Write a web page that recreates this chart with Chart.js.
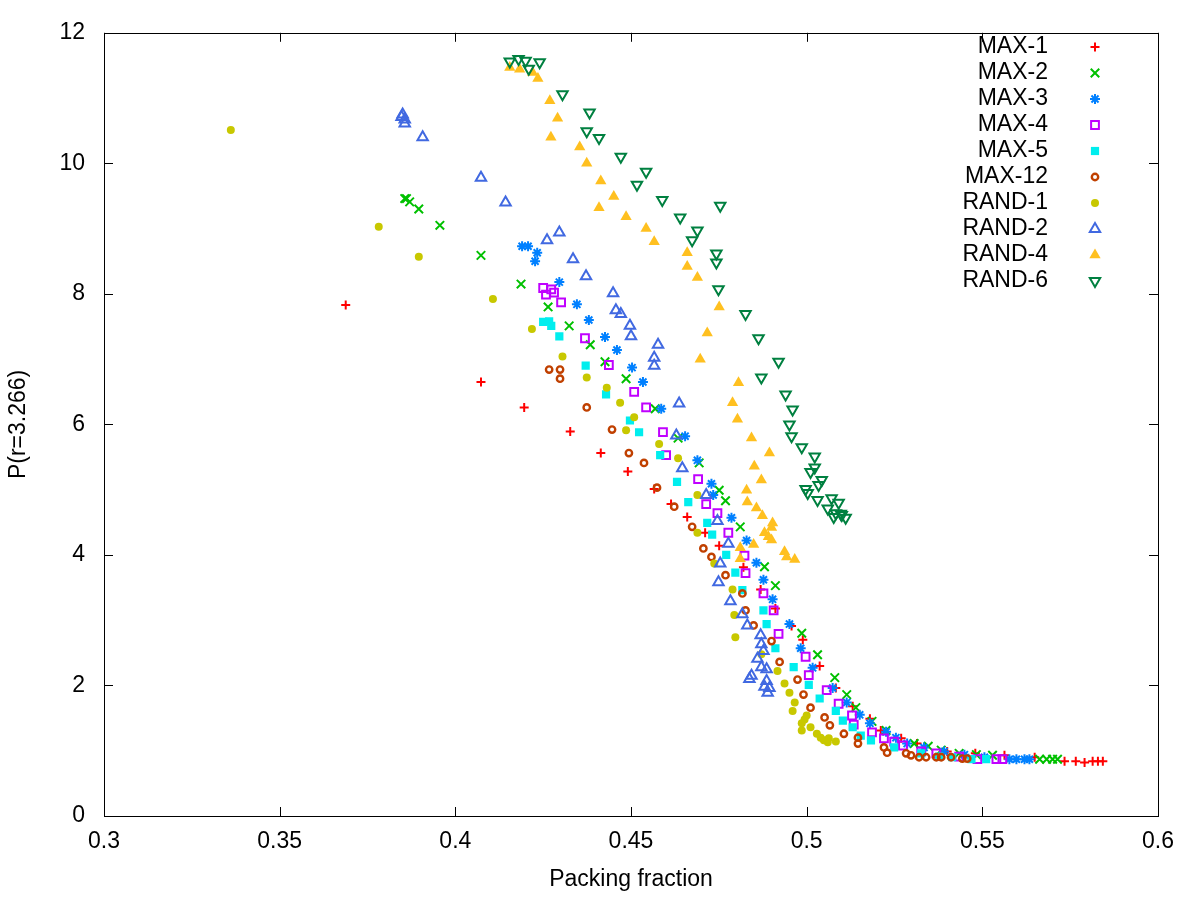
<!DOCTYPE html>
<html>
<head>
<meta charset="utf-8">
<script src="https://cdn.jsdelivr.net/npm/chart.js@4/dist/chart.umd.min.js"></script>
<style>
  html, body { margin: 0; padding: 0; background: #fff; }
  #wrap { width: 1200px; height: 900px; }
</style>
</head>
<body>
<div id="wrap"><canvas id="c" width="1200" height="900"></canvas></div>
<script>
// axis ticks
const xTicks = [0.3, 0.35, 0.4, 0.45, 0.5, 0.55, 0.6];
const yTicks = [0, 2, 4, 6, 8, 10, 12];

// series names, in plot order
const seriesNames = ['MAX-1', 'MAX-2', 'MAX-3', 'MAX-4', 'MAX-5', 'MAX-12', 'RAND-1', 'RAND-2', 'RAND-4', 'RAND-6'];

// [packing fraction, P(r=3.266)]
const max1 = [[0.3688,7.83],[0.4073,6.65],[0.4196,6.26],[0.4327,5.89],[0.4414,5.56],[0.4491,5.28],[0.4566,5.01],[0.4614,4.78],[0.466,4.58],[0.4711,4.34],[0.4751,4.14],[0.482,3.81],[0.4869,3.47],[0.4911,3.18],[0.4957,2.91],[0.4989,2.70],[0.5037,2.30],[0.5083,1.96],[0.5131,1.68],[0.518,1.49],[0.5211,1.31],[0.5269,1.19],[0.5314,1.11],[0.54,0.99],[0.548,0.96],[0.5563,0.93],[0.5649,0.90],[0.5734,0.84],[0.5766,0.84],[0.5791,0.82],[0.5814,0.84],[0.5829,0.84],[0.5843,0.84]];
const max2 = [[0.3856,9.46],[0.3861,9.46],[0.387,9.41],[0.3896,9.30],[0.3956,9.05],[0.4073,8.59],[0.4187,8.15],[0.4264,7.80],[0.4324,7.51],[0.4384,7.22],[0.4426,6.96],[0.4486,6.70],[0.4569,6.24],[0.4634,5.79],[0.4694,5.41],[0.4751,4.99],[0.4769,4.83],[0.4811,4.43],[0.488,3.82],[0.4911,3.53],[0.4986,2.80],[0.5031,2.47],[0.508,2.12],[0.5114,1.86],[0.514,1.66],[0.5186,1.45],[0.5226,1.31],[0.5306,1.11],[0.5346,1.07],[0.5383,1.01],[0.5434,0.96],[0.5483,0.94],[0.5529,0.93],[0.5663,0.87],[0.5683,0.87],[0.57,0.87],[0.5714,0.87]];
const max3 = [[0.419,8.73],[0.4207,8.73],[0.4233,8.63],[0.4227,8.50],[0.4296,8.18],[0.4346,7.84],[0.438,7.60],[0.4426,7.34],[0.446,7.14],[0.4503,6.87],[0.4534,6.65],[0.4586,6.24],[0.4654,5.82],[0.4689,5.45],[0.4729,5.09],[0.4734,4.92],[0.4786,4.57],[0.4829,4.22],[0.4857,3.88],[0.4877,3.62],[0.4903,3.32],[0.4951,2.94],[0.4983,2.57],[0.5017,2.27],[0.5074,1.96],[0.5114,1.74],[0.5151,1.55],[0.518,1.42],[0.5226,1.29],[0.5254,1.20],[0.5286,1.11],[0.5334,1.05],[0.5391,0.99],[0.5449,0.94],[0.5506,0.90],[0.5577,0.87],[0.5597,0.87],[0.562,0.87],[0.5634,0.87]];
const max4 = [[0.425,8.09],[0.4273,8.07],[0.4258,7.99],[0.4281,8.02],[0.4301,7.87],[0.4369,7.32],[0.4437,6.91],[0.4509,6.50],[0.4543,6.26],[0.4591,5.88],[0.46,5.53],[0.4691,5.16],[0.4714,4.78],[0.4746,4.64],[0.4777,4.34],[0.4823,3.99],[0.4826,3.72],[0.4877,3.41],[0.4906,3.15],[0.492,2.79],[0.4997,2.44],[0.5006,2.16],[0.5057,1.93],[0.5091,1.72],[0.5129,1.54],[0.5134,1.40],[0.5186,1.28],[0.522,1.19],[0.5249,1.14],[0.5274,1.08],[0.5326,0.99],[0.5369,0.96],[0.5434,0.91],[0.5486,0.87],[0.554,0.87],[0.5557,0.87]];
const max5 = [[0.425,7.57],[0.4267,7.58],[0.4273,7.51],[0.4296,7.35],[0.4371,6.90],[0.4429,6.46],[0.4497,6.06],[0.4523,5.88],[0.4583,5.53],[0.4631,5.12],[0.4663,4.81],[0.4717,4.49],[0.4731,4.31],[0.4771,4.00],[0.4797,3.73],[0.4817,3.46],[0.4877,3.15],[0.4886,2.94],[0.4911,2.57],[0.4963,2.28],[0.5006,2.01],[0.5037,1.80],[0.5083,1.61],[0.5103,1.46],[0.5131,1.36],[0.5154,1.23],[0.5183,1.16],[0.5249,1.05],[0.5326,0.96],[0.5377,0.91],[0.5414,0.90],[0.5469,0.87],[0.5511,0.87]];
const max12 = [[0.4267,6.84],[0.4298,6.84],[0.4298,6.70],[0.4374,6.26],[0.4446,5.92],[0.4494,5.56],[0.4537,5.41],[0.4574,5.03],[0.4623,4.74],[0.4674,4.43],[0.4706,4.10],[0.4729,3.97],[0.4769,3.69],[0.4817,3.41],[0.4826,3.15],[0.4849,2.92],[0.49,2.68],[0.4923,2.36],[0.4974,2.09],[0.4991,1.86],[0.5011,1.66],[0.5051,1.51],[0.5066,1.39],[0.5106,1.26],[0.5146,1.20],[0.5146,1.11],[0.522,1.05],[0.5229,0.97],[0.5283,0.96],[0.5297,0.93],[0.532,0.90],[0.534,0.90],[0.5369,0.90],[0.5383,0.90],[0.5411,0.90],[0.5443,0.88],[0.5457,0.88]];
const rand1 = [[0.3361,10.51],[0.3782,9.03],[0.3896,8.57],[0.4107,7.92],[0.4218,7.46],[0.4305,7.04],[0.4374,6.72],[0.4431,6.56],[0.4469,6.33],[0.4509,6.11],[0.4486,5.91],[0.458,5.70],[0.4634,5.48],[0.4689,4.92],[0.4689,4.34],[0.4737,3.87],[0.4789,3.47],[0.4794,3.08],[0.4797,2.74],[0.4871,2.48],[0.4917,2.22],[0.4937,2.03],[0.4951,1.89],[0.4966,1.74],[0.496,1.61],[0.5,1.54],[0.4994,1.48],[0.4986,1.42],[0.4986,1.31],[0.5011,1.36],[0.5029,1.26],[0.504,1.20],[0.5049,1.16],[0.5063,1.19],[0.5083,1.14],[0.506,1.13]];
const rand2 = [[0.385,10.75],[0.3847,10.71],[0.3856,10.67],[0.3856,10.61],[0.3907,10.40],[0.4073,9.78],[0.4143,9.40],[0.4296,8.94],[0.4261,8.82],[0.4335,8.53],[0.4372,8.27],[0.4449,8.01],[0.4457,7.75],[0.4471,7.69],[0.4497,7.51],[0.45,7.35],[0.4577,7.22],[0.4566,7.02],[0.4566,6.90],[0.4637,6.32],[0.4629,5.83],[0.4646,5.33],[0.4714,4.92],[0.4746,4.52],[0.4777,4.17],[0.4754,3.87],[0.4749,3.58],[0.4783,3.29],[0.4817,3.09],[0.4831,2.92],[0.4869,2.77],[0.4871,2.63],[0.4877,2.53],[0.486,2.41],[0.4871,2.28],[0.4886,2.25],[0.4843,2.15],[0.4837,2.10],[0.4886,2.07],[0.488,1.98],[0.4894,1.96],[0.4889,1.89]];
const rand4 = [[0.4155,11.47],[0.4183,11.44],[0.422,11.39],[0.4235,11.30],[0.4269,10.96],[0.4291,10.69],[0.4272,10.40],[0.4354,10.25],[0.4374,10.00],[0.4414,9.73],[0.4451,9.49],[0.4409,9.32],[0.4486,9.18],[0.4543,9.00],[0.4566,8.80],[0.466,8.63],[0.466,8.42],[0.4689,8.25],[0.4751,7.80],[0.4717,7.40],[0.4697,7.00],[0.4806,6.64],[0.4789,6.33],[0.4803,6.08],[0.4843,5.79],[0.4894,5.56],[0.4851,5.36],[0.4871,5.15],[0.4829,4.99],[0.4831,4.81],[0.4857,4.72],[0.4874,4.60],[0.4903,4.49],[0.49,4.42],[0.488,4.34],[0.4891,4.28],[0.49,4.23],[0.4811,4.11],[0.4849,4.16],[0.4811,3.94],[0.4937,4.05],[0.4943,3.97],[0.4966,3.93]];
const rand6 = [[0.4155,11.56],[0.418,11.60],[0.42,11.57],[0.4209,11.45],[0.424,11.55],[0.4305,11.06],[0.4382,10.78],[0.4374,10.49],[0.4409,10.39],[0.4471,10.10],[0.4543,9.87],[0.4517,9.67],[0.4589,9.44],[0.464,9.17],[0.4689,8.97],[0.4674,8.82],[0.4754,9.35],[0.4743,8.62],[0.4743,8.48],[0.4749,8.07],[0.4826,7.69],[0.4863,7.32],[0.492,6.96],[0.4871,6.72],[0.494,6.46],[0.496,6.23],[0.4951,6.00],[0.4957,5.82],[0.4986,5.65],[0.5023,5.51],[0.5023,5.34],[0.5011,5.27],[0.5043,5.15],[0.5034,5.07],[0.4997,5.01],[0.5003,4.95],[0.5031,4.84],[0.5071,4.87],[0.5091,4.80],[0.506,4.71],[0.5077,4.58],[0.5083,4.64],[0.5097,4.63],[0.5111,4.57],[0.51,4.61]];

const seriesData = [max1, max2, max3, max4, max5, max12, rand1, rand2, rand4, rand6];

// gnuplot-ish marker per series
const markers = [
  { color: '#ff0000', style: 'cross',    r: 4.5, bw: 2,   fill: false },
  { color: '#00c000', style: 'crossRot', r: 6,   bw: 2,   fill: false },
  { color: '#0080ff', style: 'star',     r: 5,   bw: 2,   fill: false },
  { color: '#c000ff', style: 'rect',     r: 5.5, bw: 2,   fill: false },
  { color: '#00eeee', style: 'rect',     r: 5.8, bw: 0,   fill: true },
  { color: '#c04000', style: 'circle',   r: 3.2, bw: 2.4, fill: false },
  { color: '#c8c800', style: 'circle',   r: 4,   bw: 0,   fill: true },
  { color: '#4169e1', style: 'triangle', r: 6,   bw: 2,   fill: false },
  { color: '#ffc020', style: 'triangle', r: 6.5, bw: 0,   fill: true },
  { color: '#008040', style: 'triangle', r: 6,   bw: 2,   fill: false, rot: 180 }
];

const font = { family: '"Liberation Sans", Arial, sans-serif', size: 23 };

const datasets = seriesNames.map((name, i) => {
  const m = markers[i];
  return {
    label: name,
    data: seriesData[i].map(p => ({ x: p[0], y: p[1] })),
    showLine: false,
    pointStyle: m.style,
    pointRadius: m.r,
    pointBorderWidth: m.bw,
    pointRotation: m.rot || 0,
    pointBorderColor: m.color,
    pointBackgroundColor: m.fill ? m.color : 'rgba(0,0,0,0)',
    order: seriesNames.length - i   // later series on top, like gnuplot
  };
});

// border, inward mirror ticks and the key
const frame = {
  id: 'frame',
  afterDraw(chart) {
    const { ctx, chartArea: a, scales: { x, y } } = chart;
    ctx.save();
    ctx.strokeStyle = '#000';
    ctx.lineWidth = 1;
    ctx.beginPath();
    x.ticks.forEach(t => {
      const px = Math.round(x.getPixelForValue(t.value)) + 0.5;
      ctx.moveTo(px, a.bottom); ctx.lineTo(px, a.bottom - 9);
      ctx.moveTo(px, a.top); ctx.lineTo(px, a.top + 9);
    });
    y.ticks.forEach(t => {
      const py = Math.round(y.getPixelForValue(t.value)) + 0.5;
      ctx.moveTo(a.left, py); ctx.lineTo(a.left + 9, py);
      ctx.moveTo(a.right, py); ctx.lineTo(a.right - 9, py);
    });
    ctx.stroke();
    ctx.strokeRect(Math.round(a.left) + 0.5, Math.round(a.top) + 0.5,
      Math.round(a.right - a.left), Math.round(a.bottom - a.top));

    // key
    ctx.font = font.size + 'px ' + font.family;
    ctx.textAlign = 'right';
    ctx.textBaseline = 'middle';
    chart.data.datasets.forEach((ds, i) => {
      const ky = 47 + i * 26;
      ctx.fillStyle = '#000';
      ctx.fillText(ds.label, 1048, ky);
      ctx.fillStyle = ds.pointBackgroundColor;
      ctx.strokeStyle = ds.pointBorderColor;
      ctx.lineWidth = ds.pointBorderWidth;
      Chart.helpers.drawPoint(ctx, {
        pointStyle: ds.pointStyle,
        radius: ds.pointRadius,
        rotation: ds.pointRotation,
        borderWidth: ds.pointBorderWidth
      }, 1095, ky);
    });
    ctx.restore();
  }
};

new Chart(document.getElementById('c'), {
  type: 'scatter',
  data: { datasets },
  options: {
    responsive: false,
    animation: false,
    devicePixelRatio: 1,
    layout: { padding: { top: 29, right: 42, left: 0, bottom: 0 } },
    plugins: { legend: { display: false }, tooltip: { enabled: false } },
    scales: {
      x: {
        type: 'linear',
        min: 0.3, max: 0.6,
        afterBuildTicks: s => { s.ticks = xTicks.map(v => ({ value: v })); },
        afterFit: s => { s.height = 84; },
        grid: { display: false, drawTicks: false },
        border: { display: false },
        ticks: { font, color: '#000', padding: 12, maxRotation: 0, autoSkip: false, callback: v => String(v) },
        title: { display: true, text: 'Packing fraction', font, color: '#000', padding: { top: 0, bottom: 7 } }
      },
      y: {
        type: 'linear',
        min: 0, max: 12,
        afterBuildTicks: s => { s.ticks = yTicks.map(v => ({ value: v })); },
        afterFit: s => { s.width = 104; },
        grid: { display: false, drawTicks: false },
        border: { display: false },
        ticks: { font, color: '#000', padding: 19, autoSkip: false, callback: v => String(v) },
        title: { display: true, text: 'P(r=3.266)', font, color: '#000', padding: { top: 5, bottom: 0 } }
      }
    }
  },
  plugins: [frame]
});
</script>
</body>
</html>
